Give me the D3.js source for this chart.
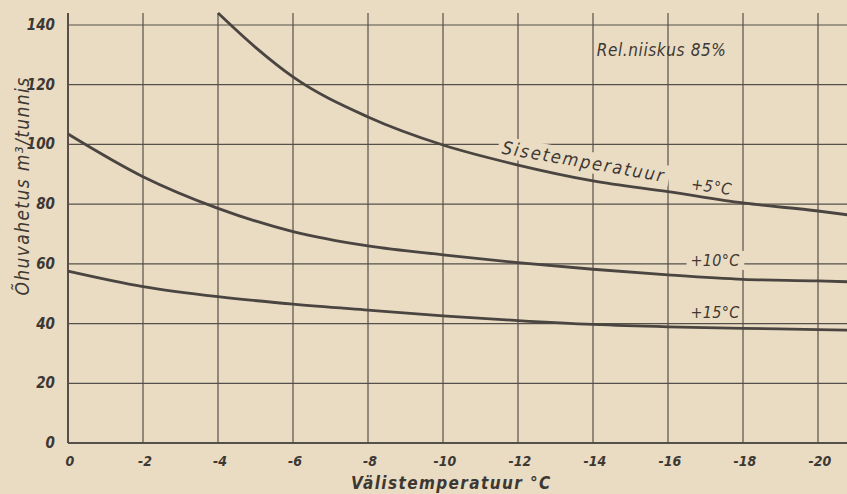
<!DOCTYPE html>
<html>
<head>
<meta charset="utf-8">
<script src="https://cdn.jsdelivr.net/npm/d3@7"></script>
<style>
  body { margin: 0; background: #eadcc3; }
  svg { display: block; }
  text { font-family: "DejaVu Sans Condensed", "DejaVu Sans", sans-serif; font-style: italic; fill: #3d3833; }
</style>
</head>
<body>
<div id="canvas"></div>
<script>
// outdoor temperature (°C) and air exchange (m³/h)
var xTicks = [0, -2, -4, -6, -8, -10, -12, -14, -16, -18, -20];
var yTicks = [0, 20, 40, 60, 80, 100, 120, 140];

var temp5 = [-4, -5, -6, -8, -10, -12, -14, -16, -18, -20, -20.8];
var flow5 = [144, 132.5, 122.6, 109.2, 99.8, 93.1, 87.8, 84.2, 80.4, 77.7, 76.4];

var temp10 = [0, -2, -4, -6, -8, -10, -12, -14, -16, -18, -20, -20.8];
var flow10 = [103.5, 89.2, 78.6, 70.8, 66, 63, 60.4, 58.2, 56.3, 54.8, 54.3, 54.0];

var temp15 = [0, -2, -4, -6, -8, -10, -12, -14, -16, -18, -20, -20.8];
var flow15 = [57.6, 52.4, 49, 46.5, 44.5, 42.6, 41, 39.7, 38.9, 38.4, 38, 37.8];

var W = 847, H = 494;
var paper = "#eadcc3", ink = "#55504a";

var svg = d3.select("#canvas").append("svg").attr("width", W).attr("height", H);
svg.append("rect").attr("width", W).attr("height", H).attr("fill", paper);

var x = d3.scaleLinear().domain([0, -20]).range([68, 818]);
var y = d3.scaleLinear().domain([0, 140]).range([443, 25]);
var yTop = y(144);

// horizontal grid lines, running to the right edge
svg.selectAll("line.hgrid")
  .data(yTicks)
  .enter()
  .append("line")
  .attr("class", "hgrid")
  .attr("x1", x(0)).attr("x2", W)
  .attr("y1", d => y(d)).attr("y2", d => y(d))
  .attr("stroke", ink)
  .attr("stroke-width", d => d === 0 ? 2 : 1.2);

// vertical grid lines
svg.selectAll("line.vgrid")
  .data(xTicks)
  .enter()
  .append("line")
  .attr("class", "vgrid")
  .attr("x1", d => x(d)).attr("x2", d => x(d))
  .attr("y1", yTop).attr("y2", y(0))
  .attr("stroke", ink)
  .attr("stroke-width", d => d === 0 ? 2 : 1.2);

// tick labels
svg.selectAll("text.ytick")
  .data(yTicks)
  .enter()
  .append("text")
  .attr("class", "ytick")
  .attr("x", 55)
  .attr("y", d => y(d) + 5)
  .attr("text-anchor", "end")
  .style("font-size", "15px")
  .style("font-weight", "bold")
  .text(d => d);

svg.selectAll("text.xtick")
  .data(xTicks)
  .enter()
  .append("text")
  .attr("class", "xtick")
  .attr("x", d => x(d) + 2)
  .attr("y", 466)
  .attr("text-anchor", "middle")
  .style("font-size", "14px")
  .style("font-weight", "bold")
  .text(d => d);

// axis titles
svg.append("text")
  .attr("x", 351).attr("y", 489)
  .style("font-size", "17px")
  .style("font-weight", "bold")
  .style("letter-spacing", "1.4px")
  .text("Välistemperatuur °C");

svg.append("text")
  .attr("transform", "translate(29,186) rotate(-90)")
  .attr("text-anchor", "middle")
  .style("font-size", "19px")
  .style("letter-spacing", "1.4px")
  .text("Õhuvahetus m³/tunnis");

// label boxes that break the grid behind the text
function label(txt, px, py, size, angle, spacing, gap) {
  var g = svg.append("g").attr("transform", `translate(${px},${py}) rotate(${angle})`);
  var t = g.append("text")
    .style("font-size", size + "px")
    .style("letter-spacing", spacing + "px")
    .text(txt);
  if (gap) {
    var b = t.node().getBBox();
    g.insert("rect", "text")
      .attr("x", b.x - 4).attr("y", b.y)
      .attr("width", b.width + 8).attr("height", b.height)
      .attr("fill", paper);
  }
  return g;
}

var line = d3.line()
  .x(d => x(d[0]))
  .y(d => y(d[1]))
  .curve(d3.curveMonotoneX);

label("Sisetemperatuur", x(-11.55), y(97), 18, 10, 2, true);
label("+5°C", x(-16.6), y(85), 16, 8, 0.6, false);
label("+10°C", x(-16.6), y(59.3), 16, 0, 0.3, true);
label("+15°C", x(-16.6), y(42), 16, 0, 0.3, false);
label("Rel.niiskus 85%", x(-14.1), y(129.5), 17, 0, 0.6, false);

var series = [d3.zip(temp5, flow5), d3.zip(temp10, flow10), d3.zip(temp15, flow15)];
svg.selectAll("path.curve")
  .data(series)
  .enter()
  .append("path")
  .attr("class", "curve")
  .attr("d", line)
  .attr("fill", "none")
  .attr("stroke", "#4a4540")
  .attr("stroke-width", 2.8);
</script>
</body>
</html>
